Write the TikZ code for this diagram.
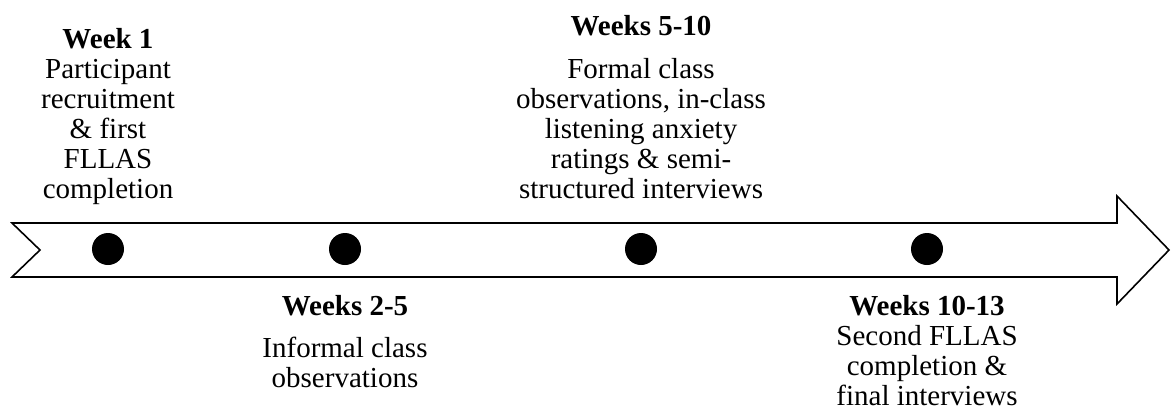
\documentclass[tikz,border=0pt]{standalone}
\usepackage{fontspec}
\setmainfont{Liberation Serif}
\newcommand{\tlblock}[1]{\vtop{\halign{\hfil##\hfil\cr#1\crcr}}}
\tikzset{
  lbl/.style={anchor=base, inner sep=0pt, font=\fontsize{29}{30}\selectfont},
  dot/.style={circle, fill=black, minimum size=32pt, inner sep=0pt},
  band/.style={draw=black, line width=1.6pt, fill=white, line join=miter}
}
\begin{document}
\begin{tikzpicture}[x=1pt,y=-1pt]
\useasboundingbox (0,0) rectangle (1172,410);
\fill[white] (0,0) rectangle (1172,410);
% timeline arrow
\draw[band] (12,223) -- (1117,223) -- (1117,196) -- (1169,250) -- (1117,304)
  -- (1117,277) -- (12,277) -- (40,250) -- cycle;
% dots
\node[dot] (d1) at (108,249) {};
\node[dot] (d2) at (345,249) {};
\node[dot] (d3) at (641,249) {};
\node[dot] (d4) at (927,249) {};
% labels
\node[lbl] (t1) at (108,48) {\tlblock{\bfseries Week 1\cr Participant\cr recruitment\cr \& first\cr FLLAS\cr completion}};
\node[lbl] (h3) at (641,35) {\bfseries Weeks 5-10};
\node[lbl] (t3) at (641,78) {\tlblock{Formal class\cr observations, in-class\cr listening anxiety\cr ratings \& semi-\cr structured interviews}};
\node[lbl] (h2) at (345,315) {\bfseries Weeks 2-5};
\node[lbl] (t2) at (345,357) {\tlblock{Informal class\cr observations}};
\node[lbl] (t4) at (927,315) {\tlblock{\bfseries Weeks 10-13\cr Second FLLAS\cr completion \&\cr final interviews}};
\end{tikzpicture}
\end{document}
